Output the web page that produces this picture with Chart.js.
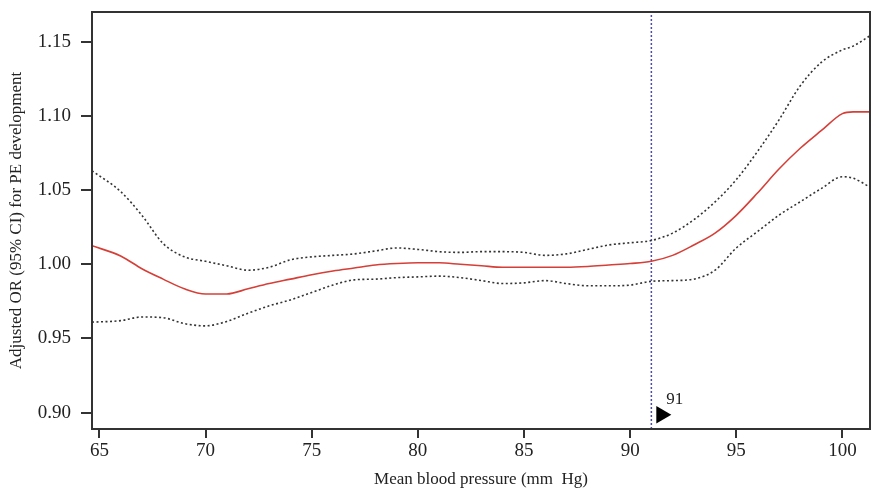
<!DOCTYPE html>
<html>
<head>
<meta charset="utf-8">
<script src="https://cdn.jsdelivr.net/npm/chart.js@4/dist/chart.umd.min.js"></script>
<style>
  body { margin: 0; background: #fff; }
  #wrap { width: 881px; height: 492px; }
</style>
</head>
<body>
<div id="wrap"><canvas id="orChart" width="881" height="492"></canvas></div>
<script>
  // mean blood pressure (mm Hg)
  const bpValues = [64.65, 66, 67, 68, 69, 70, 71, 72, 73, 74, 75, 76, 77, 78, 79, 80, 81, 82, 83, 84,
    85, 86, 87, 88, 89, 90, 91, 92, 93, 94, 95, 96, 97, 98, 99, 100, 100.5, 101.3];
  // adjusted OR and its 95% CI
  const orValues = [1.0125, 1.0056, 0.997, 0.990, 0.9835, 0.980, 0.980, 0.9835, 0.987, 0.990, 0.993, 0.9955,
    0.9975, 0.9995, 1.0005, 1.001, 1.001, 1.000, 0.999, 0.998, 0.998, 0.998, 0.998, 0.9985, 0.9995, 1.0005,
    1.002, 1.006, 1.013, 1.021, 1.033, 1.048, 1.064, 1.078, 1.090, 1.1015, 1.1027, 1.1027];
  const upperCI = [1.063, 1.049, 1.033, 1.014, 1.005, 1.002, 0.999, 0.996, 0.998, 1.003, 1.005, 1.006,
    1.007, 1.009, 1.011, 1.010, 1.0085, 1.008, 1.0085, 1.0085, 1.008, 1.006, 1.007, 1.010, 1.013, 1.0145,
    1.016, 1.021, 1.030, 1.042, 1.057, 1.076, 1.097, 1.120, 1.136, 1.1445, 1.147, 1.154];
  const lowerCI = [0.961, 0.962, 0.9645, 0.964, 0.960, 0.9585, 0.9615, 0.967, 0.972, 0.976, 0.981, 0.986,
    0.9895, 0.990, 0.991, 0.9915, 0.992, 0.991, 0.989, 0.987, 0.9875, 0.989, 0.987, 0.9855, 0.9855, 0.986,
    0.9885, 0.989, 0.990, 0.996, 1.011, 1.022, 1.033, 1.042, 1.051, 1.059, 1.058, 1.052];

  const xTicks = [65, 70, 75, 80, 85, 90, 95, 100];
  const yTicks = [0.90, 0.95, 1.00, 1.05, 1.10, 1.15];
  const cutoff = 91;
  const cutoffLabel = '91';
  const markerPoint = { x: 91.47, y: 0.8986 };

  const xMin = 64.65, xMax = 101.3;
  const yMin = 0.889, yMax = 1.17;

  const toPoints = vals => bpValues.map((x, i) => ({ x: x, y: vals[i] }));
  const serif = '"Liberation Serif", "Times New Roman", serif';

  // frame around the plot + the "91" text next to the marker
  const framePlugin = {
    id: 'frame',
    afterDraw(chart) {
      const { ctx, chartArea: a, scales } = chart;
      ctx.save();
      ctx.strokeStyle = '#333';
      ctx.lineWidth = 2;
      ctx.strokeRect(a.left, a.top, a.right - a.left, a.bottom - a.top);
      const px = scales.x.getPixelForValue(markerPoint.x);
      const py = scales.y.getPixelForValue(markerPoint.y);
      ctx.fillStyle = '#222';
      ctx.font = '17px ' + serif;
      ctx.textAlign = 'left';
      ctx.textBaseline = 'alphabetic';
      ctx.fillText(cutoffLabel, px + 5, py - 11);
      ctx.restore();
    }
  };

  new Chart(document.getElementById('orChart').getContext('2d'), {
    type: 'line',
    data: {
      datasets: [
        {
          data: toPoints(upperCI),
          borderColor: '#333',
          borderWidth: 1.6,
          borderDash: [2, 2.5],
          pointRadius: 0,
          cubicInterpolationMode: 'monotone',
          fill: false
        },
        {
          data: toPoints(lowerCI),
          borderColor: '#333',
          borderWidth: 1.6,
          borderDash: [2, 2.5],
          pointRadius: 0,
          cubicInterpolationMode: 'monotone',
          fill: false
        },
        {
          data: toPoints(orValues),
          borderColor: '#d63f38',
          borderWidth: 1.6,
          pointRadius: 0,
          cubicInterpolationMode: 'monotone',
          fill: false
        },
        {
          data: [{ x: cutoff, y: yMin }, { x: cutoff, y: yMax }],
          borderColor: '#4b4bb8',
          borderWidth: 1.5,
          borderDash: [2, 2],
          pointRadius: 0,
          fill: false
        },
        {
          data: [markerPoint],
          showLine: false,
          pointStyle: 'triangle',
          rotation: 90,
          pointRadius: 10,
          backgroundColor: '#000',
          borderColor: '#000',
          borderWidth: 0
        }
      ]
    },
    options: {
      responsive: false,
      animation: false,
      layout: { padding: { top: 12, right: 11, left: 0, bottom: 0 } },
      plugins: {
        legend: { display: false },
        tooltip: { enabled: false }
      },
      scales: {
        x: {
          type: 'linear',
          min: xMin,
          max: xMax,
          afterBuildTicks: s => { s.ticks = xTicks.map(v => ({ value: v })); },
          afterFit: s => { s.height = 63; s.paddingLeft = 0; s.paddingRight = 0; },
          grid: { drawOnChartArea: false, tickLength: 9, color: '#333', lineWidth: 2 },
          border: { display: true, color: '#333', width: 2 },
          ticks: {
            color: '#222',
            font: { family: serif, size: 19 },
            padding: 2,
            maxRotation: 0,
            callback: v => String(v)
          },
          title: {
            display: true,
            text: 'Mean blood pressure (mm  Hg)',
            color: '#222',
            font: { family: serif, size: 17 },
            padding: { top: 0, bottom: 2 }
          }
        },
        y: {
          type: 'linear',
          min: yMin,
          max: yMax,
          afterBuildTicks: s => { s.ticks = yTicks.map(v => ({ value: v })); },
          afterFit: s => { s.width = 92; s.paddingTop = 0; s.paddingBottom = 0; },
          grid: { drawOnChartArea: false, tickLength: 11, color: '#333', lineWidth: 2 },
          border: { display: true, color: '#333', width: 2 },
          ticks: {
            color: '#222',
            font: { family: serif, size: 19 },
            padding: 10,
            callback: v => v.toFixed(2)
          },
          title: {
            display: true,
            text: 'Adjusted OR (95% CI) for PE development',
            color: '#222',
            font: { family: serif, size: 17 },
            padding: { top: 6, bottom: 0 }
          }
        }
      }
    },
    plugins: [framePlugin]
  });
</script>
</body>
</html>
